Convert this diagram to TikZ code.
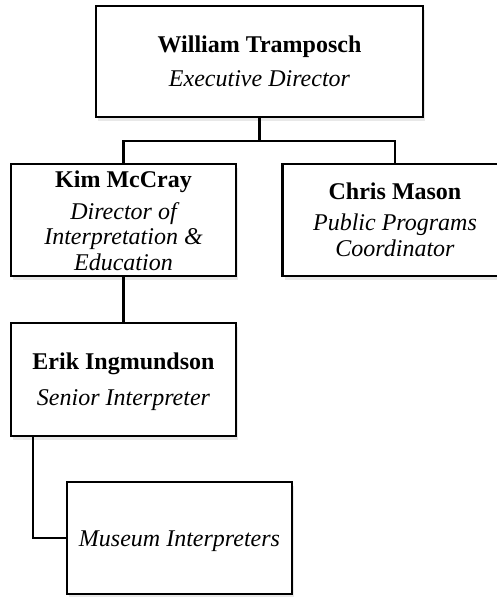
\documentclass[tikz,border=0pt]{standalone}
\usepackage{fontspec}
\setmainfont{Liberation Serif}
\usetikzlibrary{shadows}
\begin{document}
\begin{tikzpicture}[x=1pt,y=-1pt,
  box/.style={draw=black, line width=2.5pt, fill=white, inner sep=0pt,
    drop shadow={opacity=0.18, shadow xshift=2pt, shadow yshift=-4pt}},
  conn/.style={draw=black, line width=2.5pt},
  nm/.style={font=\fontsize{24}{25}\selectfont\bfseries, inner sep=0pt, anchor=base},
  rl/.style={font=\fontsize{24}{25.5}\selectfont\itshape, align=center, inner sep=0pt, anchor=base}]
\useasboundingbox (0,0) rectangle (496,597);

% boxes
\node[box, minimum width=327pt, minimum height=111pt] (top) at (259.5,61.5) {};
\node[box, minimum width=225pt, minimum height=112pt] (kim) at (123.5,220) {};
\node[box, minimum width=225pt, minimum height=112pt] (chris) at (395,220) {};
\node[box, minimum width=225pt, minimum height=113pt] (erik) at (123.5,379.5) {};
\node[box, minimum width=225pt, minimum height=112pt] (mus) at (179.5,538) {};

% texts
\node[nm] (topname) at (259.5,52) {William Tramposch};
\node[rl] (toprole) at (259.5,86) {Executive Director};
\node[nm] (kimname) at (123.5,187) {Kim McCray};
\node[rl, anchor=north] (kimrole) at (123.5,202) {Director of\\Interpretation \&\\Education};
\node[nm] (chrisname) at (395,199) {Chris Mason};
\node[rl, anchor=north] (chrisrole) at (395,214) {Public Programs\\Coordinator};
\node[nm] (erikname) at (123.5,369) {Erik Ingmundson};
\node[rl] (erikrole) at (123.5,405) {Senior Interpreter};
\node[rl] (musrole) at (179.5,546) {Museum Interpreters};

% connectors
\coordinate (j) at (259.5,141);
\draw[conn] (top.south) -- (j);
\draw[conn] (kim.north) |- (j) -| (chris.north);
\draw[conn] (kim.south) -- (erik.north);
\coordinate (e) at (33,436);
\draw[conn] (e) |- (mus.west);
\end{tikzpicture}
\end{document}
